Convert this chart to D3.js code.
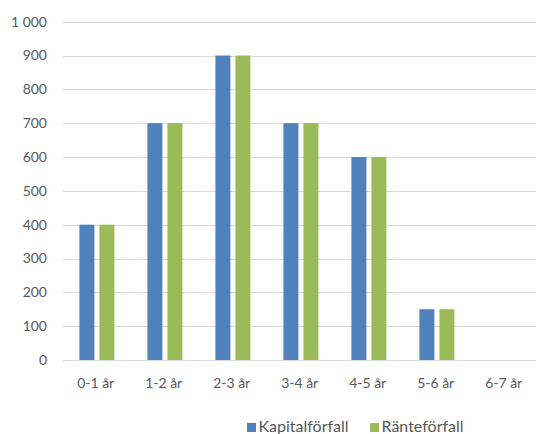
<!DOCTYPE html>
<html><head><meta charset="utf-8">
<script src="https://cdn.jsdelivr.net/npm/d3@7"></script>
<style>
html,body{margin:0;padding:0;background:#fff;}
svg{display:block;font-family:Lato, "Open Sans", sans-serif;}
</style></head>
<body><svg id="c" width="536" height="434"></svg>
<script>
const categories = ["0-1 år","1-2 år","2-3 år","3-4 år","4-5 år","5-6 år","6-7 år"];
const seriesNames = ["Kapitalförfall","Ränteförfall"];
const kapital = [400,700,900,700,600,150,0];
const ranta = [400,700,900,700,600,150,0];
const yTicks = [0,100,200,300,400,500,600,700,800,900,1000];
const colors = ["#4f81bd","#9bbb59"];

const svg = d3.select("#c");
const x = d3.scaleBand().domain(categories).range([62.7, 538.7]).padding(0);
const y = d3.scaleLinear().domain([0,1000]).range([360, 21.7]);
const inner = d3.scaleBand().domain(seriesNames).range([-17.3, 17.7]).paddingInner(0.25);
const fmt = v => d3.format(",")(v).replace(/,/g, " ");

// gridlines
svg.append("g").selectAll("line").data(yTicks).join("line")
  .attr("x1", 62.7).attr("x2", 536)
  .attr("y1", d => Math.round(y(d)) + 0.5).attr("y2", d => Math.round(y(d)) + 0.5)
  .attr("stroke", "#d9d9d9").attr("stroke-width", 1.2);

// y labels
svg.append("g").selectAll("text").data(yTicks).join("text")
  .attr("x", 47).attr("y", d => y(d)).attr("dy", "0.35em")
  .attr("text-anchor", "end").attr("fill", "#595959").attr("font-size", 14)
  .text(fmt);

// bars
const data = [kapital, ranta];
data.forEach((vals, si) => {
  svg.append("g").selectAll("rect").data(vals.map((v,i)=>({c:categories[i], v})))
    .join("rect")
    .attr("x", d => x(d.c) + x.bandwidth()/2 + inner(seriesNames[si]))
    .attr("width", inner.bandwidth())
    .attr("y", d => y(d.v))
    .attr("height", d => y(0) - y(d.v))
    .attr("fill", colors[si]);
});

// x labels
svg.append("g").selectAll("text").data(categories).join("text")
  .attr("x", d => x(d) + x.bandwidth()/2 - 1).attr("y", 388)
  .attr("text-anchor", "middle").attr("fill", "#595959").attr("font-size", 14)
  .text(d => d);

// legend
const leg = svg.append("g");
const legX = [247, 370];
seriesNames.forEach((n, i) => {
  leg.append("rect").attr("x", legX[i]).attr("y", 423).attr("width", 9).attr("height", 9).attr("fill", colors[i]);
  leg.append("text").attr("x", legX[i] + 11.5).attr("y", 432).attr("fill", "#595959")
    .attr("font-size", 16).text(n);
});
</script></body></html>
